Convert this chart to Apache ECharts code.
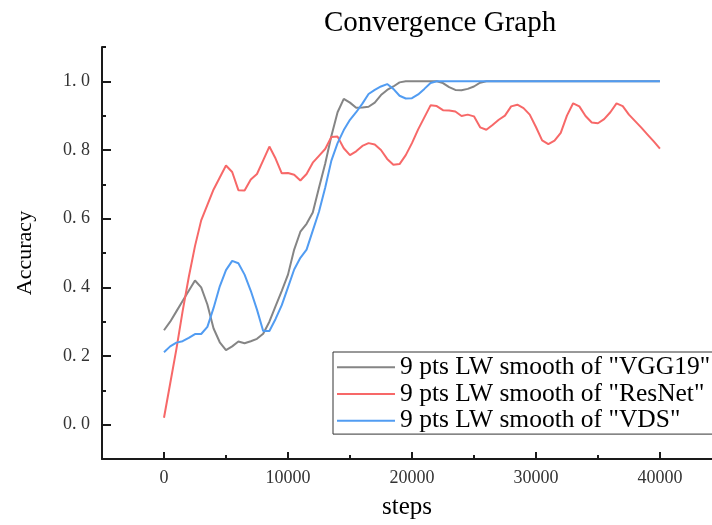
<!DOCTYPE html>
<html>
<head>
<meta charset="utf-8">
<script src="https://cdn.jsdelivr.net/npm/echarts@6/dist/echarts.min.js"></script>
<style>
  html, body { margin: 0; padding: 0; background: #fff; }
  #chart { width: 712px; height: 525px; }
</style>
</head>
<body>
<div id="chart"></div>
<script>
// steps sampled every 500
var steps = [];
for (var s = 0; s <= 40000; s += 500) steps.push(s);

var vgg19 = [
    0.275, 0.30, 0.33, 0.36, 0.39, 0.42, 0.40, 0.35, 0.28, 0.24,
    0.217, 0.228, 0.242, 0.237, 0.243, 0.25, 0.265, 0.30, 0.345, 0.39,
    0.437, 0.51, 0.562, 0.585, 0.618, 0.69, 0.76, 0.841, 0.91, 0.949,
    0.938, 0.923, 0.924, 0.926, 0.938, 0.96, 0.975, 0.985, 0.997, 1.0,
    1.0, 1.0, 1.0, 1.0, 1.0, 0.995, 0.983, 0.975, 0.974, 0.978,
    0.985, 0.996, 1.0, 1.0, 1.0, 1.0, 1.0, 1.0, 1.0, 1.0,
    1.0, 1.0, 1.0, 1.0, 1.0, 1.0, 1.0, 1.0, 1.0, 1.0,
    1.0, 1.0, 1.0, 1.0, 1.0, 1.0, 1.0, 1.0, 1.0, 1.0,
    1.0
];

var resnet = [
    0.02, 0.12, 0.22, 0.33, 0.43, 0.52, 0.595, 0.64, 0.685, 0.72,
    0.755, 0.736, 0.683, 0.682, 0.714, 0.73, 0.77, 0.81, 0.775, 0.732,
    0.733, 0.728, 0.711, 0.73, 0.763, 0.783, 0.803, 0.838, 0.839, 0.805,
    0.785, 0.796, 0.812, 0.82, 0.816, 0.80, 0.774, 0.757, 0.759, 0.785,
    0.82, 0.86, 0.895, 0.93, 0.928, 0.916, 0.915, 0.912, 0.899, 0.903,
    0.898, 0.866, 0.859, 0.873, 0.888, 0.90, 0.927, 0.932, 0.922, 0.903,
    0.867, 0.828, 0.817, 0.827, 0.85, 0.90, 0.936, 0.927, 0.899, 0.88,
    0.878, 0.89, 0.91, 0.936, 0.928, 0.903, 0.884, 0.865, 0.845, 0.825,
    0.804
];

var vds = [
    0.211, 0.228, 0.239, 0.243, 0.253, 0.264, 0.264, 0.285, 0.34, 0.403,
    0.45, 0.477, 0.47, 0.437, 0.39, 0.335, 0.273, 0.273, 0.308, 0.348,
    0.40, 0.452, 0.486, 0.51, 0.565, 0.62, 0.69, 0.769, 0.82, 0.858,
    0.888, 0.91, 0.935, 0.963, 0.975, 0.985, 0.992, 0.978, 0.958, 0.95,
    0.951, 0.962, 0.978, 0.995, 1.0, 1.0, 1.0, 1.0, 1.0, 1.0,
    1.0, 1.0, 1.0, 1.0, 1.0, 1.0, 1.0, 1.0, 1.0, 1.0,
    1.0, 1.0, 1.0, 1.0, 1.0, 1.0, 1.0, 1.0, 1.0, 1.0,
    1.0, 1.0, 1.0, 1.0, 1.0, 1.0, 1.0, 1.0, 1.0, 1.0,
    1.0
];

var seriesNames = ['9 pts LW smooth of "VGG19"', '9 pts LW smooth of "ResNet"', '9 pts LW smooth of "VDS"'];
var seriesColors = ['#858585', '#f76868', '#519cf2'];

var xMajor = [0, 10000, 20000, 30000, 40000];
var xMinor = [5000, 15000, 25000, 35000];
var yMajor = [0, 0.2, 0.4, 0.6, 0.8, 1.0];
var yMinor = [0.1, 0.3, 0.5, 0.7, 0.9, 1.1];

function pairs(vals) {
    var out = [];
    for (var i = 0; i < steps.length; i++) out.push([steps[i], vals[i]]);
    return out;
}

var chart = echarts.init(document.getElementById('chart'));
var serif = 'Liberation Serif';
var axisColor = '#1a1a1a';

var option = {
    animation: false,
    backgroundColor: '#fff',
    title: {
        text: 'Convergence Graph',
        left: 319,
        top: 4,
        textStyle: { fontFamily: serif, fontSize: 29, fontWeight: 'normal', color: '#000' }
    },
    legend: {
        orient: 'vertical',
        left: 333,
        top: 352,
        padding: [2, 8, 0, 4],
        icon: 'rect',
        itemWidth: 58,
        itemHeight: 2,
        itemGap: 0,
        borderColor: '#333',
        borderWidth: 1,
        backgroundColor: '#fff',
        data: seriesNames,
        textStyle: { fontFamily: serif, fontSize: 25.5, lineHeight: 26.7, color: '#000' }
    },
    grid: { left: 102, right: 0, top: 47, bottom: 62, containLabel: false },
    xAxis: [
        {
            type: 'value',
            min: -5000,
            max: 44200,
            position: 'bottom',
            name: 'steps',
            nameLocation: 'middle',
            nameGap: 36,
            nameTextStyle: { fontFamily: serif, fontSize: 25, color: '#000' },
            axisLine: { onZero: false, lineStyle: { color: axisColor, width: 2 } },
            axisTick: { inside: true, length: 7, customValues: xMajor, lineStyle: { color: axisColor, width: 2 } },
            axisLabel: {
                customValues: xMajor,
                margin: 10,
                fontFamily: serif,
                fontSize: 18,
                color: '#333',
                formatter: function (v) { return String(v); }
            },
            splitLine: { show: false }
        },
        {
            type: 'value',
            min: -5000,
            max: 44200,
            position: 'bottom',
            axisLine: { show: false, onZero: false },
            axisTick: { inside: true, length: 4, customValues: xMinor, lineStyle: { color: axisColor, width: 2 } },
            axisLabel: { show: false },
            splitLine: { show: false }
        }
    ],
    yAxis: [
        {
            type: 'value',
            min: -0.1,
            max: 1.1,
            position: 'left',
            name: 'Accuracy',
            nameLocation: 'middle',
            nameGap: 66,
            nameTextStyle: { fontFamily: serif, fontSize: 22, color: '#000' },
            axisLine: { onZero: false, lineStyle: { color: axisColor, width: 2 } },
            axisTick: { inside: true, length: 9, customValues: yMajor, lineStyle: { color: axisColor, width: 2 } },
            axisLabel: {
                customValues: yMajor,
                margin: 12,
                fontFamily: serif,
                fontSize: 18,
                color: '#333',
                formatter: function (v) { return v.toFixed(1).replace('.', '. '); }
            },
            splitLine: { show: false }
        },
        {
            type: 'value',
            min: -0.1,
            max: 1.1,
            position: 'left',
            axisLine: { show: false, onZero: false },
            axisTick: { inside: true, length: 4, customValues: yMinor, lineStyle: { color: axisColor, width: 2 } },
            axisLabel: { show: false },
            splitLine: { show: false }
        }
    ],
    series: [
        {
            name: seriesNames[0], type: 'line', xAxisIndex: 0, yAxisIndex: 0,
            symbol: 'none', data: pairs(vgg19),
            lineStyle: { color: seriesColors[0], width: 2 }, itemStyle: { color: seriesColors[0] }
        },
        {
            name: seriesNames[1], type: 'line', xAxisIndex: 0, yAxisIndex: 0,
            symbol: 'none', data: pairs(resnet),
            lineStyle: { color: seriesColors[1], width: 2 }, itemStyle: { color: seriesColors[1] }
        },
        {
            name: seriesNames[2], type: 'line', xAxisIndex: 0, yAxisIndex: 0,
            symbol: 'none', data: pairs(vds),
            lineStyle: { color: seriesColors[2], width: 2 }, itemStyle: { color: seriesColors[2] }
        }
    ]
};

chart.setOption(option);
</script>
</body>
</html>
